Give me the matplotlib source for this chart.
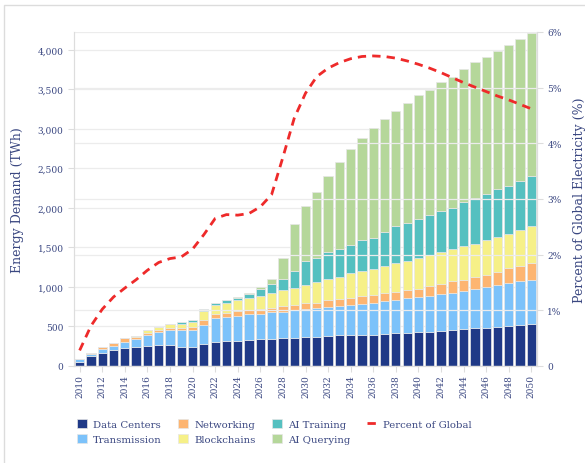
import numpy as np
import matplotlib
matplotlib.use("Agg")
import matplotlib.pyplot as plt
from matplotlib.patches import Rectangle

years = list(range(2010, 2051))

# energy demand by component (TWh)
data_centers = [50, 125, 165, 205, 226, 245, 258, 268, 260, 246,
                235, 274, 308, 316, 321, 333, 338, 346, 354, 354,
                367, 367, 376, 386, 388, 397, 397, 405, 414, 418,
                426, 430, 443, 451, 464, 477, 481, 494, 502, 515, 527]
transmission = [40, 25, 52, 52, 78, 92, 128, 165, 192, 210,
                222, 249, 300, 308, 312, 325, 320, 333, 334, 351,
                355, 363, 371, 373, 384, 390, 402, 418, 426, 439,
                443, 456, 468, 473, 485, 502, 515, 527, 549, 561, 566]
networking = [0, 20, 20, 40, 46, 35, 32, 28, 28, 28,
              36, 59, 50, 51, 59, 47, 59, 55, 71, 71,
              71, 72, 84, 89, 93, 99, 104, 101, 101, 105,
              110, 122, 131, 148, 144, 152, 160, 169, 190, 186, 211]
blockchains = [0, 0, 0, 0, 0, 8, 38, 30, 48, 46,
               67, 110, 114, 122, 143, 160, 173, 190, 199, 207,
               232, 266, 266, 283, 312, 317, 325, 338, 359, 367,
               392, 401, 405, 405, 422, 413, 439, 443, 430, 460, 464]
ai_training = [0, 0, 0, 0, 0, 0, 0, 0, 0, 30,
               20, 25, 30, 34, 30, 40, 85, 114, 139, 220,
               304, 303, 346, 350, 359, 386, 396, 438, 472, 481,
               490, 507, 515, 523, 557, 583, 578, 608, 612, 624, 641]
ai_querying = [0, 0, 0, 0, 0, 0, 0, 0, 0, 0,
               0, 0, 0, 0, 4, 15, 25, 63, 270, 590,
               701, 836, 958, 1095, 1207, 1289, 1384, 1422, 1452, 1515,
               1561, 1573, 1629, 1654, 1687, 1713, 1730, 1738, 1780, 1789, 1802]

# share of global electricity (%)
pct_global = [0.28, 0.72, 1.02, 1.24, 1.40, 1.55, 1.72, 1.86, 1.93, 1.96,
               2.10, 2.36, 2.65, 2.72, 2.71, 2.74, 2.86, 3.08, 3.75, 4.45,
               4.90, 5.20, 5.35, 5.45, 5.52, 5.56, 5.57, 5.56, 5.53, 5.48,
               5.42, 5.35, 5.27, 5.18, 5.09, 5.01, 4.93, 4.85, 4.78, 4.70, 4.62]

series = [
    ("Data Centers", data_centers, "#1f3987"),
    ("Transmission", transmission, "#7cc2fa"),
    ("Networking", networking, "#fdb571"),
    ("Blockchains", blockchains, "#f6f088"),
    ("AI Training", ai_training, "#55c0c0"),
    ("AI Querying", ai_querying, "#b5d79a"),
]

TEXT = "#3a4781"
GRID = "#ececec"
AXIS = "#dddddd"

plt.rcParams["font.family"] = ["DejaVu Serif"]

fig = plt.figure(figsize=(5.85, 4.64), dpi=100)
ax = fig.add_axes([74 / 585, 97 / 464, 463 / 585, 334 / 464])
ax2 = ax.twinx()

x = np.arange(len(years))
bottom = np.zeros(len(years))
handles = []
for name, vals, color in series:
    vals = np.array(vals, dtype=float)
    b = ax.bar(x, vals, bottom=bottom, width=0.82, color=color,
               edgecolor="#e6e6e6", linewidth=0.5, label=name, zorder=2)
    handles.append(b)
    bottom += vals

line, = ax2.plot(x, pct_global, color="#ee2a2a", linestyle=(0, (3, 2.2)),
                 linewidth=2.0, label="Percent of Global", zorder=3)

ax.set_xlim(-0.5, len(years) - 0.5)
ax.set_ylim(0, 4225)
ax2.set_ylim(0, 6.0)

ax.set_yticks(range(0, 4001, 500))
ax.set_yticklabels([f"{v:,}" for v in range(0, 4001, 500)])
ax2.set_yticks(range(0, 7))
ax2.set_yticklabels(["0"] + [f"{v}%" for v in range(1, 7)])
ax.set_xticks(x[::2])
ax.set_xticklabels([str(y) for y in years[::2]], rotation=90)

for a in (ax, ax2):
    a.tick_params(colors=AXIS, labelcolor=TEXT, labelsize=6.5, length=4, width=0.8)
    for s in a.spines.values():
        s.set_color(AXIS)
        s.set_linewidth(0.8)
    a.spines["top"].set_visible(False)
ax.tick_params(axis="x", pad=2)

ax.set_axisbelow(True)
ax.grid(axis="y", color=GRID, linewidth=0.9, zorder=0)
ax2.grid(axis="y", color=GRID, linewidth=0.9, zorder=0)
ax2.set_zorder(ax.get_zorder() + 1)
ax2.patch.set_visible(False)
# keep right-axis gridlines behind bars
for gl in ax2.get_ygridlines():
    gl.set_zorder(0)

ax.set_ylabel("Energy Demand (TWh)", color=TEXT, fontsize=9, labelpad=10)
ax2.set_ylabel("Percent of Global Electricity (%)", color=TEXT, fontsize=9, labelpad=8)

fig.legend(handles + [line], [s[0] for s in series] + ["Percent of Global"],
           loc="upper left", bbox_to_anchor=(68 / 585, 1 - 411 / 464), ncol=4,
           frameon=False, fontsize=7.3, labelcolor=TEXT, handlelength=1.0,
           handleheight=1.0, handletextpad=0.6, columnspacing=1.6, labelspacing=0.45)

# thin frame around the whole figure
fig.patches.append(Rectangle((4 / 585, -0.05), 1.2, 1 - 6 / 464 + 0.05,
                             transform=fig.transFigure, fill=False,
                             edgecolor="#dcdcdc", linewidth=1.0))

fig.savefig("out.png", dpi=100)
